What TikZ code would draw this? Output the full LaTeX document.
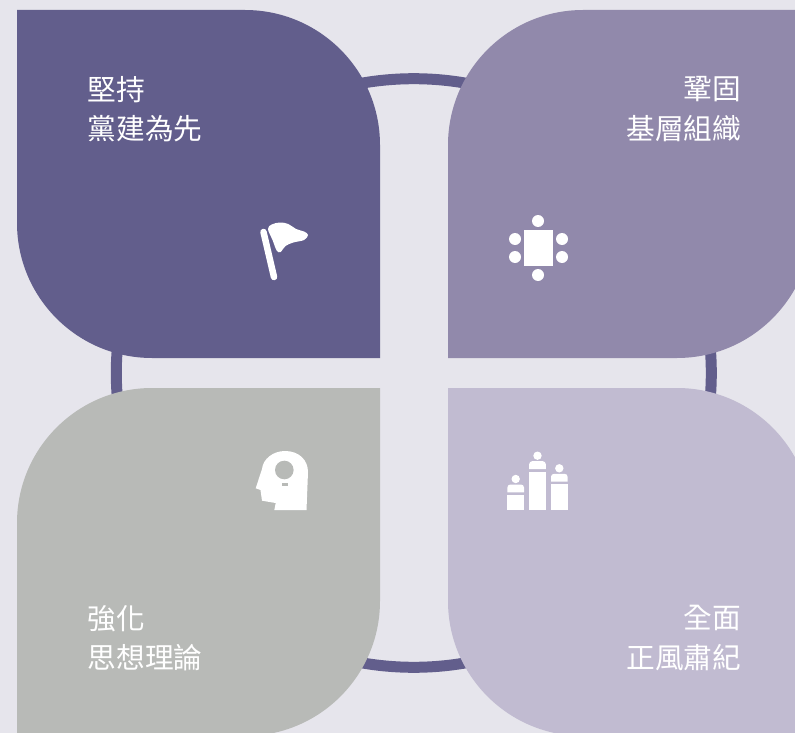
\documentclass[tikz,border=0pt]{standalone}
\usepackage{fontspec}
\newfontfamily\cjk{Noto Sans CJK TC}
\definecolor{bgc}{HTML}{E6E5EC}
\definecolor{purple1}{HTML}{625E8C}
\definecolor{purple2}{HTML}{9189AB}
\definecolor{grey1}{HTML}{B8BAB7}
\definecolor{purple3}{HTML}{C1BBD1}

\begin{document}
\begin{tikzpicture}[x=1pt, y=-1pt, main/.style = {text=white, inner sep=0pt, font=\cjk\fontsize{28.7}{39.5}\selectfont}, leftlabel/.style = {main, anchor=west, align=left}, rightlabel/.style = {main, anchor=east, align=right}, icon/.style = {fill=white, draw=none}]
    \useasboundingbox (0,0) rectangle (795,733);
    \clip (0,0) rectangle (795,733);
    \fill[bgc] (0,0) rectangle (795,733);

    \draw[purple1, line width=11pt] (413.8,373) ellipse [x radius=297.5, y radius=294.3];

    \fill[purple1] (17,10) -- (245,10) arc[start angle=-90, end angle=0, radius=135] -- (380,358) -- (152,358) arc[start angle=90, end angle=180, radius=135] -- cycle;
    \fill[purple2] (448,358) -- (448,145) arc[start angle=180, end angle=270, radius=135] -- (812,10) -- (812,223) arc[start angle=0, end angle=90, radius=135] -- cycle;
    \fill[grey1] (380,388) -- (152,388) arc[start angle=-90, end angle=-180, radius=135] -- (17,736) -- (245,736) arc[start angle=90, end angle=0, radius=135] -- cycle;
    \fill[purple3] (448,388) -- (677,388) arc[start angle=-90, end angle=0, radius=135] -- (812,736) -- (583,736) arc[start angle=90, end angle=180, radius=135] -- cycle;

    \node[leftlabel] (a) at (87.5,109) {堅持\\黨建為先};
    \node[rightlabel] (b) at (741.5,109) {鞏固\\基層組織};
    \node[leftlabel] (c) at (87.5,638) {強化\\思想理論};
    \node[rightlabel] (d) at (741.5,638) {全面\\正風肅紀};

    % flag
    \draw[white, line width=6.5pt, line cap=round] (263.5,232) -- (274,277);
    \fill[white] plot[smooth cycle, tension=0.6] coordinates {(268,229) (272.5,240) (276.7,250.5) (280.5,252) (285.5,246) (293.3,242.5) (304,240) (308,235) (304,231.5) (296,229) (288.3,224) (280,222.5) (271.7,224.5)};

    % table
    \fill[icon] (524,230) rectangle (553,266);
    \foreach \px/\py in {538/221, 538/275, 515/239, 515/257, 562/239, 562/257}
        \fill[icon] (\px,\py) circle (6);

    % head
    \fill[icon] (255.7,488.3) -- (262,469) .. controls (263,459) and (273,451) .. (285,451) .. controls (299,451) and (308,460) .. (308,472) -- (306.5,510) -- (274.3,510) -- (275.7,503) -- (262,500.7) -- (260.5,490) -- cycle;
    \fill[grey1] (284.3,470) circle (9.3);
    \fill[grey1] (281.7,482.7) rectangle (287.7,486);

    % podium
    \foreach \cx/\ty in {515.7/495, 537.5/471.7, 559.3/484.3} {
        \fill[icon] (\cx-8.3,\ty) rectangle (\cx+8.3,510);
        \fill[icon] (\cx,\ty-16) circle (4.2);
        \fill[icon, rounded corners=3pt] (\cx-8.3,\ty-2.7) -- (\cx-8.3,\ty-10.5) -- (\cx+8.3,\ty-10.5) [sharp corners] -- (\cx+8.3,\ty-2.7) -- cycle;
    }
\end{tikzpicture}
\end{document}
